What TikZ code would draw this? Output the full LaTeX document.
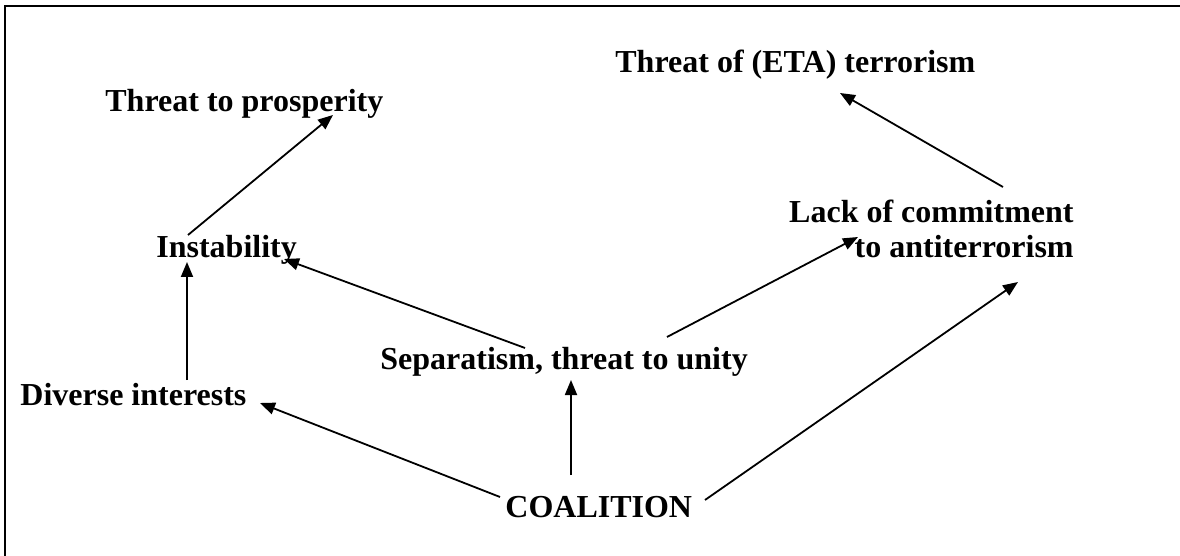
\documentclass[tikz,border=0pt]{standalone}
\usepackage{fontspec}
\setmainfont{Liberation Serif}
\usetikzlibrary{arrows.meta,positioning,calc}

\begin{document}
\begin{tikzpicture}[x=0.5pt,y=-0.5pt,
  font=\fontsize{16}{17.5}\selectfont\bfseries,
  lbl/.style={inner sep=0pt,anchor=base west},
  link/.style={line width=0.9pt,-{Triangle[length=7.5pt,width=6pt]}}]
\path[use as bounding box] (0,0) rectangle (1180,556);
\draw[line width=1pt] (1180,6.5) -- (5,6.5) -- (5,556);
% labels
\node[lbl] (eta) at (615,73) {Threat of (ETA) terrorism};
\node[lbl] (prosp) at (105,112) {Threat to prosperity};
\node[lbl] (inst) at (156,257) {Instability};
\node[inner sep=0pt,anchor=north east,align=right] (lack) at (1074,200)
  {Lack of commitment\\to antiterrorism};
\node[lbl] (sep) at (380,370) {Separatism, threat to unity};
\node[lbl] (div) at (20,405) {Diverse interests};
\node[lbl] (coal) at (505,517) {COALITION};
% links
\draw[link] ([shift={(32,-22)}]inst.base west) -- ([shift={(228,3)}]prosp.base west);
\draw[link] ([shift={(167,-25)}]div.base west) -- ([shift={(31,5)}]inst.base west);
\draw[link] ([shift={(145,-22)}]sep.base west) -- ([shift={(128,2)}]inst.base west);
\draw[link] ([shift={(287,-33)}]sep.base west) -- ([shift={(-216,37)}]lack.north east);
\draw[link] ([shift={(-71,-13)}]lack.north east) -- ([shift={(225,20)}]eta.base west);
\draw[link] ([shift={(66,-42)}]coal.base west) -- ([shift={(191,10)}]sep.base west);
\draw[link] ([shift={(-5,-20)}]coal.base west) -- ([shift={(240,-2)}]div.base west);
\draw[link] ([shift={(200,-17)}]coal.base west) -- ([shift={(-56,82)}]lack.north east);
\end{tikzpicture}
\end{document}
